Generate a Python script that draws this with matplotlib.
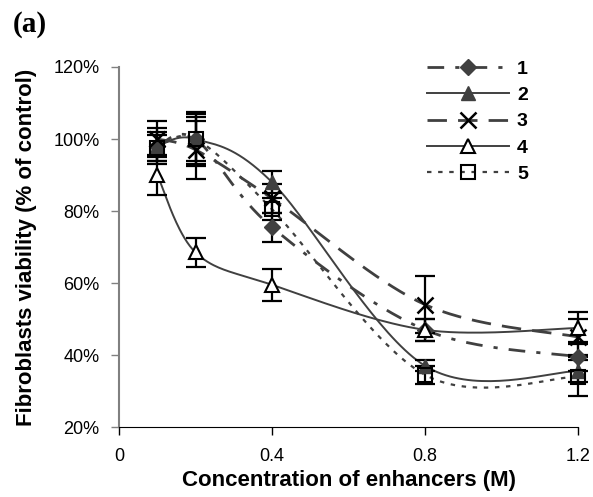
import numpy as np
import matplotlib.pyplot as plt

# concentrations (M)
conc = [0.1, 0.2, 0.4, 0.8, 1.2]

# viability (% of control) for each enhancer
v1 = [98, 100, 75.5, 47, 39.5]
v2 = [98, 100, 88, 37, 35.5]
v3 = [100, 97, 83.5, 54, 45]
v4 = [90, 68.5, 59.5, 47, 47.5]
v5 = [97.5, 100, 80.5, 34.5, 34]

e1 = [5, 6, 4, 3, 4]
e2 = [4, 7, 3, 1.5, 3]
e3 = [5, 8, 4, 8, 5]
e4 = [5.5, 4, 4.5, 3, 4.5]
e5 = [3.5, 7.5, 3, 2.5, 5.5]

labels = ['1', '2', '3', '4', '5']


def smooth(x, y, n=40):
    # Catmull-Rom style smoothing, like the spreadsheet's "smoothed line"
    p = np.column_stack((x, y)).astype(float)
    p = np.vstack((p[0], p, p[-1]))
    out = []
    for i in range(1, len(p) - 2):
        p0, p1, p2, p3 = p[i - 1], p[i], p[i + 1], p[i + 2]
        c1 = p1 + (p2 - p0) / 6
        c2 = p2 - (p3 - p1) / 6
        t = np.linspace(0, 1, n)[:, None]
        seg = (1 - t)**3 * p1 + 3 * (1 - t)**2 * t * c1 + 3 * (1 - t) * t**2 * c2 + t**3 * p2
        out.append(seg if i == 1 else seg[1:])
    out = np.vstack(out)
    return out[:, 0], out[:, 1]


lc = '#404040'
styles = [
    dict(ls=(0, (6, 4, 1.5, 4)), lw=2.0, marker='D', ms=8, mfc=lc, mec=lc),
    dict(ls='-', lw=1.4, marker='^', ms=10, mfc=lc, mec=lc),
    dict(ls=(0, (7, 4)), lw=2.0, marker='x', ms=11, mfc='none', mec='black', mew=1.8),
    dict(ls='-', lw=1.4, marker='^', ms=10, mfc='white', mec='black', mew=1.5),
    dict(ls=(0, (2, 3)), lw=1.6, marker='s', ms=10, mfc='none', mec='black', mew=1.5),
]

plt.rcParams['font.family'] = 'Liberation Sans'

fig = plt.figure(figsize=(5.93, 4.97), dpi=100)
ax = fig.add_axes([0.2007, 0.1408, 0.7740, 0.7244])

series = [v1, v2, v3, v4, v5]
errs = [e1, e2, e3, e4, e5]
handles = []
for vals, err, st, lab in zip(series, errs, styles, labels):
    y = np.array(vals) / 100
    xs, ys = smooth(conc, y)
    ax.plot(xs, ys, color=lc, ls=st['ls'], lw=st['lw'], zorder=2, clip_on=False)
    eb = ax.errorbar(conc, y, yerr=np.array(err) / 100, fmt='none', ecolor='black',
                     elinewidth=1.6, capsize=7, capthick=1.6, zorder=3)
    for art in eb.lines[1] + eb.lines[2]:
        art.set_clip_on(False)
    ax.plot(conc, y, ls='none', marker=st['marker'], ms=st['ms'], mfc=st['mfc'],
            mec=st['mec'], mew=st.get('mew', 1), zorder=4, clip_on=False)
    h, = ax.plot([], [], color=lc, ls=st['ls'], lw=st['lw'], marker=st['marker'],
                 ms=st['ms'], mfc=st['mfc'], mec=st['mec'], mew=st.get('mew', 1))
    handles.append(h)

ax.set_xlim(0, 1.2)
ax.set_ylim(0.2, 1.2)
ax.set_xticks([0, 0.4, 0.8, 1.2])
ax.set_xticklabels(['0', '0.4', '0.8', '1.2'])
ax.set_yticks(np.arange(0.2, 1.21, 0.2))
ax.set_yticklabels([f'{int(round(v * 100))}%' for v in np.arange(0.2, 1.21, 0.2)])
ax.tick_params(labelsize=13, length=6, width=1)
ax.tick_params(axis='x', pad=9)
ax.tick_params(axis='y', pad=8, colors='#808080', labelcolor='black')
ax.spines['top'].set_visible(False)
ax.spines['right'].set_visible(False)
ax.spines['left'].set_color('#808080')
ax.spines['left'].set_linewidth(1.5)
ax.spines['bottom'].set_color('black')

ax.set_xlabel('Concentration of enhancers (M)', fontsize=16, fontweight='bold', labelpad=4)
ax.set_ylabel('Fibroblasts viability (% of control)', fontsize=16, fontweight='bold', labelpad=12)

ax.legend(handles, labels, loc='upper left', bbox_to_anchor=(0.672, 1.019), frameon=False,
          prop={'weight': 'bold', 'size': 14}, handlelength=4.2, labelspacing=0.45,
          handletextpad=0.4, numpoints=1, borderpad=0, borderaxespad=0)

fig.text(0.022, 0.95, '(a)', fontsize=21, fontweight='bold', family='Liberation Serif',
         va='center')

fig.savefig('out.png', dpi=100)
